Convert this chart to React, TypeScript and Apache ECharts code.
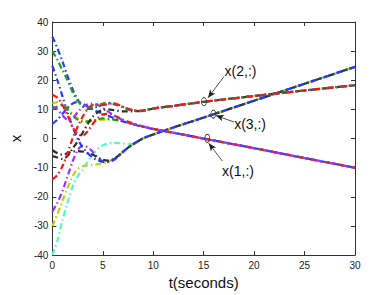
import React, { useEffect, useRef } from "react";
import * as echarts from "echarts";

// time samples (seconds)
const T = [0, 0.5, 1, 1.5, 2, 2.5, 3, 3.5, 4, 4.5, 5, 5.5, 6, 6.5, 7, 7.5, 8, 8.5, 9, 10, 12, 15, 20, 25, 30];

// group x(1,:)
const purpleA = [11, 10, 8, 6.5, 7, 9, 10.8, 11.8, 12, 11.5, 10.5, 9.3, 8.2, 7.2, 6.3, 5.6, 5.0, 4.5, 4.1, 3.3, 2.0, 0.0, -3.3, -6.7, -10.0];
const yellowA = [12, 12.5, 12, 10.5, 8.5, 7, 6.2, 6, 6.1, 6.3, 6.5, 6.5, 6.4, 6.2, 5.8, 5.4, 4.9, 4.5, 4.1, 3.3, 2.0, 0.0, -3.3, -6.7, -10.0];
const greenB = [10, 11, 11.5, 10, 8, 6.5, 5.8, 5.8, 6.2, 6.6, 6.9, 6.8, 6.6, 6.3, 5.9, 5.5, 5.0, 4.5, 4.1, 3.3, 2.0, 0.0, -3.3, -6.7, -10.0];
const redA = [15, 14, 11.5, 8, 4, 1.5, 1, 2.5, 5, 7, 8.3, 8.5, 8, 7.3, 6.5, 5.8, 5.2, 4.6, 4.1, 3.3, 2.0, 0.0, -3.3, -6.7, -10.0];
const blueC = [5, 6.5, 8.5, 10.5, 12, 12.5, 12, 11, 10, 9.2, 8.5, 7.8, 7.2, 6.5, 5.9, 5.4, 4.9, 4.4, 4.0, 3.3, 2.0, 0.0, -3.3, -6.7, -10.0];

// group x(2,:)
const blueA = [35, 31, 26.5, 21.5, 17, 13.5, 11, 10.2, 10.3, 11, 11.7, 12, 11.9, 11.4, 10.8, 10.1, 9.7, 9.5, 9.6, 10.3, 11.2, 12.6, 14.6, 16.5, 18.3];
const greenA = [30, 27, 23.5, 20, 16, 13, 11.2, 10.6, 10.8, 11.4, 12, 12.3, 12.1, 11.5, 10.8, 10.1, 9.7, 9.5, 9.6, 10.3, 11.2, 12.6, 14.6, 16.5, 18.3];
const redB = [-14, -12.5, -9.5, -5, 0, 4, 7.5, 10.2, 11.5, 11.7, 11.5, 11.8, 12.1, 11.7, 10.9, 10.2, 9.7, 9.5, 9.6, 10.3, 11.2, 12.6, 14.6, 16.5, 18.3];
const blackA = [-6, -6.5, -7, -6, -3.5, -1, 2, 5, 7.5, 9, 9.8, 10, 9.8, 9.5, 9.3, 9.3, 9.4, 9.4, 9.5, 10.3, 11.2, 12.6, 14.6, 16.5, 18.3];

// group x(3,:)
const cyan = [-40, -35, -28, -22, -16.5, -13, -10.5, -8, -5.5, -3.5, -2.3, -1.7, -1.5, -1.5, -1.7, -1.9, -1.8, -1.0, 0.0, 1.4, 3.8, 7.2, 13.0, 18.8, 24.6];
const yellowB = [-30, -26, -21.5, -17, -13, -10.5, -9.5, -9.2, -9, -8.8, -8.5, -8, -7.1, -6, -4.6, -3.2, -2, -0.9, 0.1, 1.4, 3.8, 7.2, 13.0, 18.8, 24.6];
const purpleB = [-25, -22, -18, -13, -8, -4, -2.5, -3, -4.5, -6.5, -7.7, -8, -7.5, -6.3, -4.7, -3.2, -2, -0.9, 0.1, 1.4, 3.8, 7.2, 13.0, 18.8, 24.6];
const blueB = [25, 20, 14.5, 9, 4, 0, -3, -5, -6.5, -7.5, -8, -8, -7.3, -6, -4.5, -3.1, -1.9, -0.9, 0.1, 1.4, 3.8, 7.2, 13.0, 18.8, 24.6];
const blackB = [-4, -5, -5.5, -5, -4.5, -4.3, -4.5, -5, -5.5, -6.5, -7.3, -7.6, -7.2, -6, -4.6, -3.1, -1.9, -0.9, 0.1, 1.4, 3.8, 7.2, 13.0, 18.8, 24.6];

const COLORS = {
  blue: "#2040ff",
  green: "#1f9e1f",
  red: "#ff1414",
  black: "#303030",
  purple: "#9933ff",
  yellow: "#bbd600",
  cyan: "#4dffc3",
};

const LINES: [number[], string][] = [
  [cyan, COLORS.cyan],
  [yellowB, COLORS.yellow],
  [purpleB, COLORS.purple],
  [blackB, COLORS.black],
  [blueB, COLORS.blue],
  [yellowA, COLORS.yellow],
  [greenB, COLORS.green],
  [blueC, COLORS.blue],
  [redA, COLORS.red],
  [purpleA, COLORS.purple],
  [blackA, COLORS.black],
  [blueA, COLORS.blue],
  [greenA, COLORS.green],
  [redB, COLORS.red],
];

// annotations (data coordinates)
const ANN_LABELS = ["x(2,:)", "x(3,:)", "x(1,:)"];
const ANN_TEXT_POS = [[18.65, 23.3], [19.6, 5.0], [18.4, -11.0]];
const ANN_ARROW_FROM = [[17.0, 21.2], [18.0, 5.7], [16.85, -7.7]];
const ANN_ARROW_TO = [[15.43, 14.0], [16.2, 7.9], [15.5, -1.6]];
const ANN_ELLIPSE = [[15.03, 12.67], [15.96, 8.4], [15.36, 0.1]];

const FONT = "'Liberation Sans', Arial, Helvetica, sans-serif";

export default function App() {
  const ref = useRef<HTMLDivElement>(null);
  useEffect(() => {
    if (!ref.current) return;
    const chart = echarts.init(ref.current, null, { renderer: "svg" });
    const axisLine = { show: true, onZero: false, lineStyle: { color: "#333", width: 1 } };
    const tick = { show: true, inside: true, length: 4, lineStyle: { color: "#333", width: 1 } };
    const lineSeries = LINES.map(([vals, color]) => ({
      type: "line",
      data: T.map((t, i) => [t, vals[i]]),
      smooth: 0.3,
      showSymbol: false,
      symbol: "none",
      silent: true,
      lineStyle: { color, width: 2.2, type: [6, 3, 1.5, 3] },
      xAxisIndex: 0,
      yAxisIndex: 0,
    }));
    const annSeries = {
      type: "line",
      data: [],
      xAxisIndex: 0,
      yAxisIndex: 0,
      silent: true,
      markLine: {
        silent: true,
        symbol: ["none", "arrow"],
        symbolSize: [5, 8],
        label: { show: false },
        lineStyle: { color: "#222", width: 0.8, type: "solid" },
        data: ANN_ARROW_FROM.map((f, i) => [{ coord: f }, { coord: ANN_ARROW_TO[i] }]),
      },
      markPoint: {
        silent: true,
        data: [
          ...ANN_ELLIPSE.map((c) => ({
            coord: c,
            symbol: "circle",
            symbolSize: [5, 8],
            itemStyle: { color: "rgba(0,0,0,0)", borderColor: "#333", borderWidth: 0.8 },
            label: { show: false },
          })),
          ...ANN_TEXT_POS.map((c, i) => ({
            coord: c,
            symbol: "circle",
            symbolSize: 1,
            itemStyle: { color: "rgba(0,0,0,0)" },
            label: {
              show: true,
              position: "inside",
              formatter: ANN_LABELS[i],
              fontSize: 14,
              color: "#111",
              fontFamily: FONT,
            },
          })),
        ],
      },
    };
    chart.setOption({
      animation: false,
      backgroundColor: "#fff",
      grid: { left: 51, right: 37, top: 22, bottom: 33 },
      xAxis: [
        {
          type: "value",
          min: 0,
          max: 30,
          interval: 5,
          position: "bottom",
          axisLine,
          axisTick: tick,
          splitLine: { show: false },
          axisLabel: { color: "#222", fontSize: 10, fontFamily: FONT, margin: 5 },
          name: "t(seconds)",
          nameLocation: "middle",
          nameGap: 13,
          nameTextStyle: { fontSize: 15, color: "#111", fontFamily: FONT },
        },
        {
          type: "value",
          min: 0,
          max: 30,
          interval: 5,
          position: "top",
          axisLine,
          axisTick: tick,
          splitLine: { show: false },
          axisLabel: { show: false },
        },
      ],
      yAxis: [
        {
          type: "value",
          min: -40,
          max: 40,
          interval: 10,
          position: "left",
          axisLine,
          axisTick: tick,
          splitLine: { show: false },
          axisLabel: { color: "#222", fontSize: 10, fontFamily: FONT, margin: 4 },
          name: "x",
          nameLocation: "middle",
          nameGap: 22,
          nameTextStyle: { fontSize: 15, color: "#111", fontFamily: FONT },
        },
        {
          type: "value",
          min: -40,
          max: 40,
          interval: 10,
          position: "right",
          axisLine,
          axisTick: tick,
          splitLine: { show: false },
          axisLabel: { show: false },
        },
      ],
      series: [...lineSeries, annSeries],
    });
    return () => chart.dispose();
  }, []);
  return (
    <div
      ref={ref}
      style={{ position: "fixed", left: 0, top: 0, width: 392, height: 295, background: "#fff" }}
    />
  );
}
